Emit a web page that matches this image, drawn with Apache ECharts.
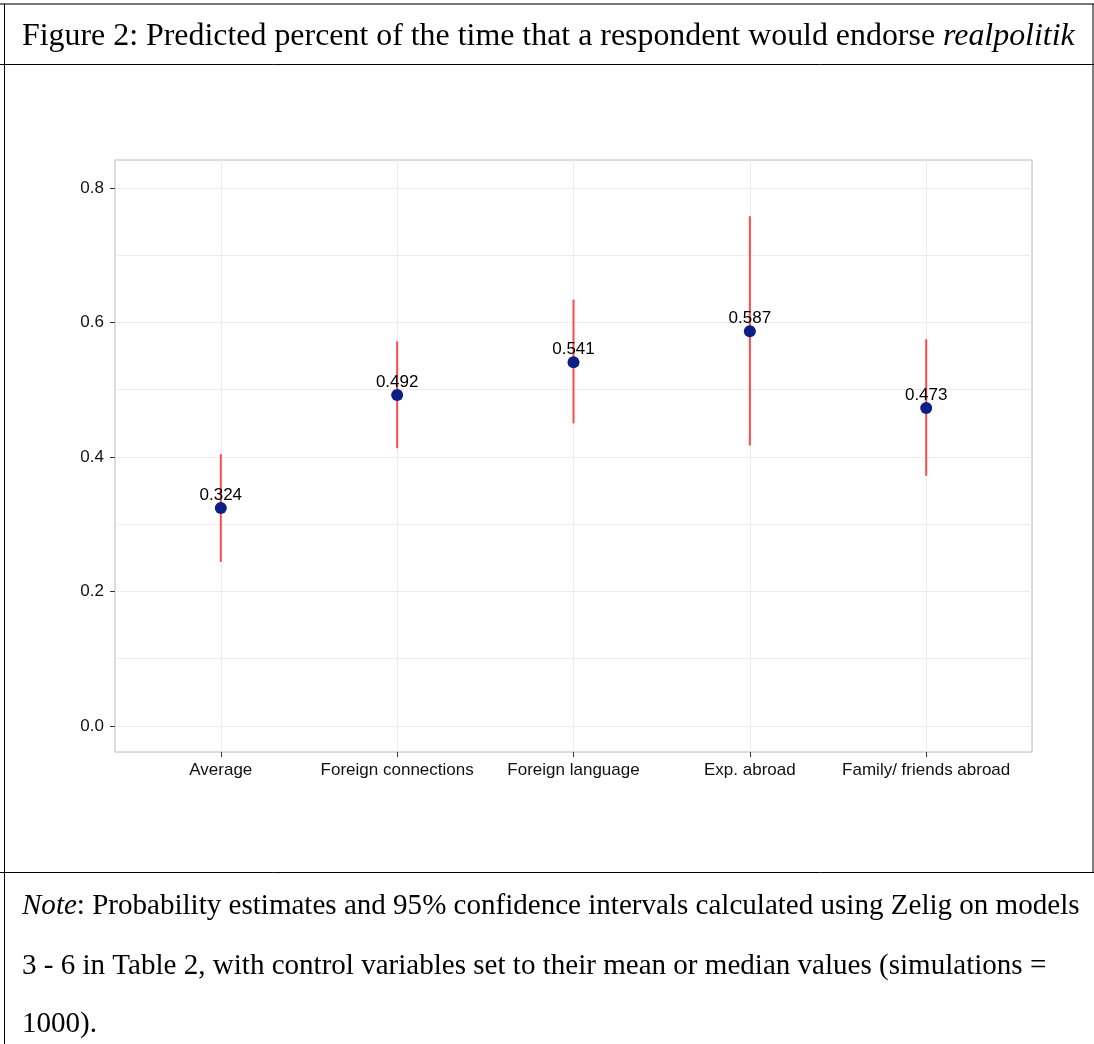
<!DOCTYPE html>
<html>
<head>
<meta charset="utf-8">
<script src="https://cdn.jsdelivr.net/npm/echarts@6/dist/echarts.min.js"></script>
<style>
html,body{margin:0;padding:0;background:#fff;}
#chart{width:1094px;height:1044px;}
</style>
</head>
<body>
<div id="chart"></div>
<script>
// ---- data ----
const categories = ['Average', 'Foreign connections', 'Foreign language', 'Exp. abroad', 'Family/ friends abroad'];
const estimates = [0.324, 0.492, 0.541, 0.587, 0.473];
const lowerCI = [0.244, 0.413, 0.450, 0.417, 0.372];
const upperCI = [0.404, 0.572, 0.634, 0.758, 0.575];
const yMajorTicks = [0, 0.2, 0.4, 0.6, 0.8];
const yAllGrid = [0, 0.1, 0.2, 0.3, 0.4, 0.5, 0.6, 0.7, 0.8];
const titleText = 'Figure 2: Predicted percent of the time that a respondent would endorse ';
const titleItalic = 'realpolitik';
const noteLines = [
  ['Note', ': Probability estimates and 95% confidence intervals calculated using Zelig on models'],
  ['', '3 - 6 in Table 2, with control variables set to their mean or median values (simulations ='],
  ['', '1000).']
];

const xPos = categories.map((c, i) => i + 1);
const pointData = xPos.map((x, i) => [x, estimates[i]]);
const ciData = xPos.map((x, i) => [x, lowerCI[i], upperCI[i]]);

const serif = '"Liberation Serif", "DejaVu Serif", serif';
// fit serif font sizes to the reference text widths
const cv = document.createElement('canvas').getContext('2d');
function w(txt, size, italic) { cv.font = (italic ? 'italic ' : '') + size + 'px ' + serif; return cv.measureText(txt).width; }
const fsTitle = 100 * 1053 / (w(titleText, 100) + w(titleItalic, 100, true));
const fsNote = 100 * 1058 / (w(noteLines[0][0], 100, true) + w(noteLines[0][1], 100));

const chart = echarts.init(document.getElementById('chart'), null, {renderer: 'canvas'});

function richStyle(fs) {
  return {n: {font: fs + 'px ' + serif, fill: '#000'}, i: {font: 'italic ' + fs + 'px ' + serif, fill: '#000'}};
}

const graphics = [
  {type: 'line', shape: {x1: 0, y1: 4, x2: 1094, y2: 4}, style: {stroke: '#777', lineWidth: 2}},
  {type: 'line', shape: {x1: 4.5, y1: 4, x2: 4.5, y2: 1044}, style: {stroke: '#000', lineWidth: 1}},
  {type: 'line', shape: {x1: 1093, y1: 4, x2: 1093, y2: 872}, style: {stroke: '#000', lineWidth: 1}},
  {type: 'line', shape: {x1: 0, y1: 64.5, x2: 1094, y2: 64.5}, style: {stroke: '#000', lineWidth: 1}},
  {type: 'line', shape: {x1: 0, y1: 872.5, x2: 1094, y2: 872.5}, style: {stroke: '#000', lineWidth: 1}},
  {type: 'text', x: 22, y: 37, style: {
    text: '{n|' + titleText + '}{i|' + titleItalic + '}', verticalAlign: 'middle',
    rich: richStyle(fsTitle)
  }}
];
const noteY = [906, 966, 1024];
noteLines.forEach((ln, k) => {
  graphics.push({type: 'text', x: 22, y: noteY[k], style: {
    text: (ln[0] ? '{i|' + ln[0] + '}' : '') + '{n|' + ln[1] + '}', verticalAlign: 'middle',
    rich: richStyle(fsNote)
  }});
});

const sans = '"Liberation Sans", Arial, Helvetica, sans-serif';

chart.setOption({
  animation: false,
  backgroundColor: '#fff',
  graphic: graphics,
  grid: {left: 115, top: 160, width: 917, height: 592, show: true, borderColor: '#b8b8b8', borderWidth: 1, backgroundColor: '#fff'},
  xAxis: {
    type: 'value', min: 0.4, max: 5.6,
    axisLine: {show: false, onZero: false},
    axisTick: {show: true, length: 5, lineStyle: {color: '#333'}, customValues: xPos},
    axisLabel: {customValues: xPos, margin: 10, color: '#111', fontFamily: sans, fontSize: 17,
      formatter: v => categories[Math.round(v) - 1] || ''},
    splitLine: {show: true, lineStyle: {color: '#ececec', width: 1}}
  },
  yAxis: [{
    type: 'value', min: -0.0387, max: 0.8416,
    axisLine: {show: false, onZero: false},
    axisTick: {show: false, customValues: yAllGrid},
    axisLabel: {show: false, customValues: yAllGrid},
    splitLine: {show: true, lineStyle: {color: '#ececec', width: 1}}
  }, {
    type: 'value', min: -0.0387, max: 0.8416, position: 'left',
    axisLine: {show: false, onZero: false},
    axisTick: {show: true, length: 5, lineStyle: {color: '#333'}, customValues: yMajorTicks},
    axisLabel: {customValues: yMajorTicks, margin: 11, color: '#111', fontFamily: sans, fontSize: 17,
      formatter: v => v.toFixed(1)},
    splitLine: {show: false}
  }],
  series: [{
    type: 'custom',
    data: ciData,
    z: 3,
    renderItem: function (params, api) {
      const p1 = api.coord([api.value(0), api.value(1)]);
      const p2 = api.coord([api.value(0), api.value(2)]);
      return {type: 'line', shape: {x1: p1[0], y1: p1[1], x2: p2[0], y2: p2[1]},
        style: {stroke: '#ff4a4a', lineWidth: 2}};
    },
    encode: {x: 0, y: [1, 2]}
  }, {
    type: 'scatter',
    data: pointData,
    z: 4,
    symbol: 'circle',
    symbolSize: 12,
    itemStyle: {color: '#0b1f86', opacity: 1},
    label: {show: true, position: 'top', distance: -2, color: '#000', fontFamily: sans, fontSize: 17,
      formatter: p => p.value[1].toFixed(3)}
  }]
});
</script>
</body>
</html>
